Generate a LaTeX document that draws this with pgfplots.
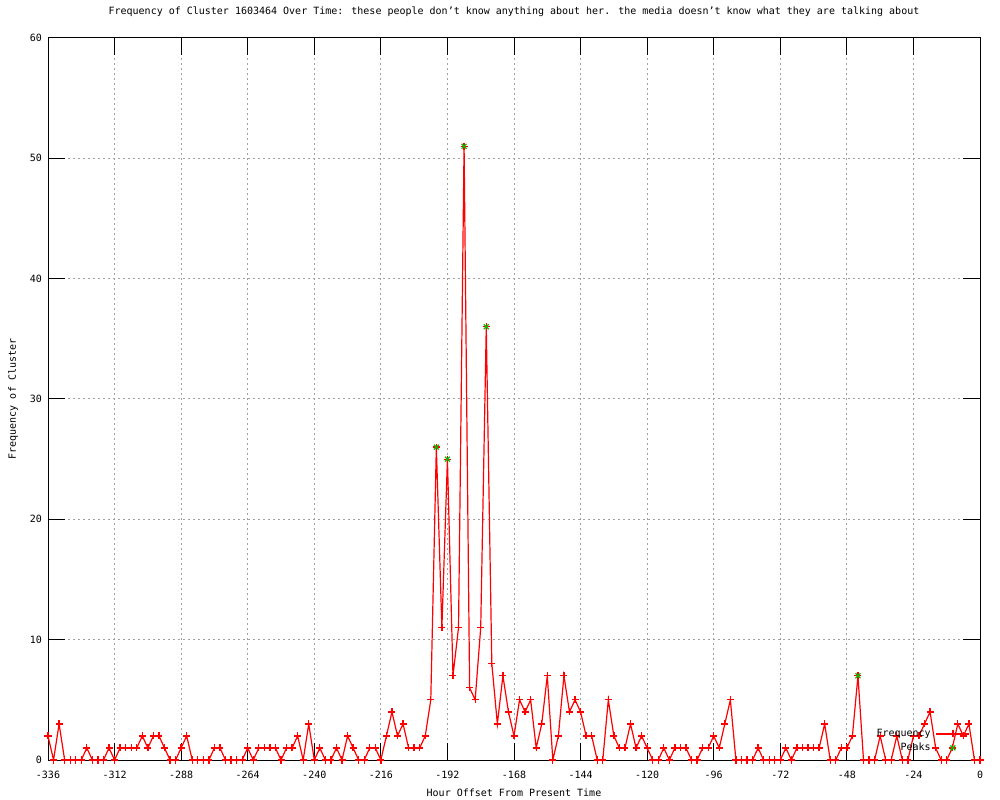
\documentclass[border=0pt]{standalone}
\usepackage{pgfplots}
\usepackage{pgfplotstable}
\pgfplotsset{compat=1.18}
\usepackage{fontspec}
\setmainfont{DejaVu Sans Mono}
\definecolor{gpred}{RGB}{255,0,0}
\definecolor{gpgreen}{RGB}{0,192,0}
\definecolor{gridgray}{RGB}{160,160,160}
\newcommand{\gpfont}{\fontsize{10bp}{12bp}\selectfont}
\pgfplotsset{
  freqleg/.style={legend image code/.code={%
    \draw[gpred, line width=1.3bp] (0bp,0bp) -- (33bp,0bp);
    \draw[gpred, line width=1.3bp] plot[only marks, mark=+, mark size=3.5bp] coordinates {(16.5bp,0bp)};}},
  peakleg/.style={legend image code/.code={%
    \draw[gpgreen, line width=1.2bp] plot[only marks, mark=x, mark size=3.5bp] coordinates {(16.5bp,0bp)};}},
}

\pgfplotstableread{
h f
-336 2
-334 0
-332 3
-330 0
-328 0
-326 0
-324 0
-322 1
-320 0
-318 0
-316 0
-314 1
-312 0
-310 1
-308 1
-306 1
-304 1
-302 2
-300 1
-298 2
-296 2
-294 1
-292 0
-290 0
-288 1
-286 2
-284 0
-282 0
-280 0
-278 0
-276 1
-274 1
-272 0
-270 0
-268 0
-266 0
-264 1
-262 0
-260 1
-258 1
-256 1
-254 1
-252 0
-250 1
-248 1
-246 2
-244 0
-242 3
-240 0
-238 1
-236 0
-234 0
-232 1
-230 0
-228 2
-226 1
-224 0
-222 0
-220 1
-218 1
-216 0
-214 2
-212 4
-210 2
-208 3
-206 1
-204 1
-202 1
-200 2
-198 5
-196 26
-194 11
-192 25
-190 7
-188 11
-186 51
-184 6
-182 5
-180 11
-178 36
-176 8
-174 3
-172 7
-170 4
-168 2
-166 5
-164 4
-162 5
-160 1
-158 3
-156 7
-154 0
-152 2
-150 7
-148 4
-146 5
-144 4
-142 2
-140 2
-138 0
-136 0
-134 5
-132 2
-130 1
-128 1
-126 3
-124 1
-122 2
-120 1
-118 0
-116 0
-114 1
-112 0
-110 1
-108 1
-106 1
-104 0
-102 0
-100 1
-98 1
-96 2
-94 1
-92 3
-90 5
-88 0
-86 0
-84 0
-82 0
-80 1
-78 0
-76 0
-74 0
-72 0
-70 1
-68 0
-66 1
-64 1
-62 1
-60 1
-58 1
-56 3
-54 0
-52 0
-50 1
-48 1
-46 2
-44 7
-42 0
-40 0
-38 0
-36 2
-34 0
-32 0
-30 2
-28 0
-26 0
-24 2
-22 2
-20 3
-18 4
-16 1
-14 0
-12 0
-10 1
-8 3
-6 2
-4 3
-2 0
0 0
}\freqtable

\pgfplotstableread{
h f
-196 26
-192 25
-186 51
-178 36
-44 7
}\peaktable

\begin{document}
\begin{tikzpicture}
\useasboundingbox (0,0) rectangle (1000bp,800bp);
\begin{axis}[
  at={(48bp,40bp)}, anchor=south west,
  scale only axis, width=932bp, height=722bp,
  xmin=-336, xmax=0, ymin=0, ymax=60,
  xtick={-336,-312,...,0}, ytick={0,10,...,60},
  grid=major,
  major grid style={gridgray, dash pattern=on 2bp off 3bp, line width=1bp},
  tick align=inside,
  major tick length=17bp,
  tick style={black, line width=1bp},
  axis line style={black, line width=1bp},
  /pgf/number format/assume math mode=true,
  /pgf/number format/1000 sep={},
  ticklabel style={font=\gpfont},
  xticklabel style={anchor=center, yshift=-15bp},
  yticklabel style={anchor=east, inner sep=0pt, xshift=-6bp},
  title={Frequency of Cluster 1603464 Over Time: these people don't know anything about her. the media doesn't know what they are talking about},
  title style={font=\gpfont, at={(axis description cs:0.5,1)}, anchor=center, yshift=20bp},
  xlabel={Hour Offset From Present Time},
  xlabel style={font=\gpfont, at={(axis description cs:0.5,0)}, anchor=center, yshift=-33bp},
  ylabel={Frequency of Cluster},
  ylabel style={font=\gpfont, at={(axis description cs:0,0.5)}, anchor=center, yshift=35bp},
  legend cell align=right,
  legend plot pos=right,
  legend style={draw=none, fill=none, font=\gpfont, inner sep=0pt, outer sep=0pt,
    at={(axis cs:-3.6,2.75)}, anchor=north east,
    nodes={text height=8bp, text depth=2bp, inner sep=2bp},
    column sep=3bp},
]
\addplot[color=gpred, line width=1.2bp, no marks, freqleg]
  table[x=h, y=f] {\freqtable};
\addlegendentry{Frequency}
\addplot[color=gpred, line width=1.3bp, only marks, mark=+, mark size=3.5bp, forget plot]
  table[x=h, y=f] {\freqtable};
\addplot[color=gpgreen, only marks, mark=x, mark size=3.5bp, line width=1.2bp, peakleg]
  table[x=h, y=f] {\peaktable};
\addlegendentry{Peaks}
\end{axis}
\end{tikzpicture}
\end{document}
